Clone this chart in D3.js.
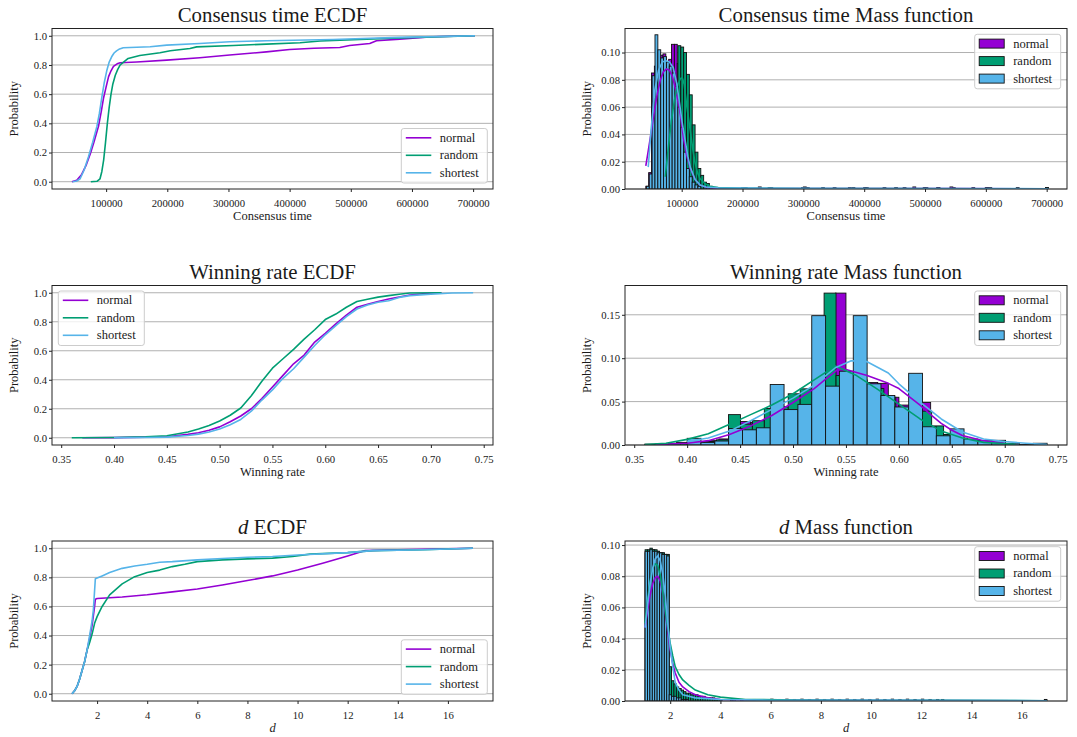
<!DOCTYPE html>
<html>
<head>
<meta charset="utf-8">
<script src="https://cdn.jsdelivr.net/npm/d3@7"></script>
<style>
body { margin: 0; background: #fff; }
text { font-family: "Liberation Serif", "Times New Roman", serif; fill: #1a1a1a; }
</style>
</head>
<body>
<div id="fig"></div>
<script>
// ===== data ============================================================
const seriesNames = ['normal', 'random', 'shortest'];

// Consensus time ECDF  [x, probability]
const ctEcdfNormal = [[44000,0],[52000,0.01],[60000,0.05],[67000,0.11],[74000,0.19],[80000,0.27],[87500,0.38],[92000,0.48],[95600,0.57],[100000,0.65],[104000,0.72],[108000,0.76],[112000,0.79],[118000,0.808],[123000,0.815],[150000,0.82],[199000,0.833],[253000,0.85],[302000,0.868],[362000,0.89],[400000,0.906],[440000,0.915],[482000,0.92],[498000,0.934],[531000,0.947],[542000,0.966],[580000,0.977],[634000,0.993],[703000,1.0]];
const ctEcdfRandom = [[75000,0],[85000,0.003],[90000,0.02],[93000,0.07],[96000,0.15],[99000,0.27],[102000,0.4],[105000,0.51],[108000,0.6],[111000,0.67],[115000,0.73],[119000,0.77],[123000,0.8],[130000,0.825],[136000,0.845],[155000,0.865],[188000,0.884],[205000,0.897],[237000,0.913],[248000,0.924],[308000,0.933],[362000,0.943],[417000,0.952],[450000,0.964],[526000,0.977],[607000,0.989],[703000,1.0]];
const ctEcdfShortest = [[45000,0],[52000,0.005],[57500,0.02],[64000,0.08],[71000,0.17],[78000,0.27],[85000,0.38],[89000,0.47],[93000,0.58],[97000,0.68],[101000,0.76],[105000,0.82],[109000,0.856],[113000,0.882],[117000,0.897],[122000,0.91],[128000,0.918],[172000,0.925],[199000,0.936],[253000,0.947],[302000,0.959],[362000,0.966],[471000,0.975],[580000,0.989],[703000,1.0]];

// Winning rate ECDF
const wrEcdfNormal = [[0.37,0],[0.40,0.001],[0.43,0.004],[0.45,0.007],[0.47,0.023],[0.48,0.034],[0.49,0.052],[0.50,0.075],[0.51,0.11],[0.52,0.15],[0.53,0.2],[0.54,0.27],[0.55,0.35],[0.56,0.43],[0.57,0.51],[0.58,0.57],[0.59,0.66],[0.60,0.72],[0.61,0.785],[0.62,0.846],[0.63,0.9],[0.64,0.92],[0.65,0.94],[0.66,0.957],[0.68,0.984],[0.70,0.998],[0.71,1.0]];
const wrEcdfRandom = [[0.36,0],[0.40,0.002],[0.43,0.007],[0.45,0.014],[0.47,0.04],[0.48,0.06],[0.49,0.085],[0.50,0.115],[0.51,0.155],[0.52,0.205],[0.53,0.29],[0.54,0.39],[0.55,0.48],[0.56,0.545],[0.57,0.61],[0.58,0.68],[0.59,0.745],[0.60,0.815],[0.61,0.853],[0.62,0.9],[0.63,0.94],[0.64,0.955],[0.65,0.97],[0.66,0.98],[0.67,0.99],[0.68,0.998],[0.71,1.0]];
const wrEcdfShortest = [[0.40,0],[0.43,0.002],[0.45,0.004],[0.47,0.015],[0.48,0.025],[0.49,0.04],[0.50,0.06],[0.51,0.09],[0.52,0.126],[0.53,0.183],[0.54,0.26],[0.55,0.33],[0.56,0.41],[0.57,0.476],[0.58,0.556],[0.59,0.636],[0.60,0.71],[0.61,0.773],[0.62,0.835],[0.63,0.888],[0.64,0.915],[0.65,0.934],[0.66,0.945],[0.67,0.968],[0.68,0.98],[0.70,0.99],[0.72,0.998],[0.74,1.0]];

// d ECDF
const dEcdfNormal = [[1.0,0],[1.1,0.02],[1.2,0.05],[1.3,0.1],[1.4,0.16],[1.5,0.22],[1.6,0.3],[1.7,0.38],[1.8,0.47],[1.9,0.6],[1.93,0.65],[2.0,0.655],[3,0.665],[4,0.68],[5,0.70],[6,0.72],[7,0.748],[8,0.778],[9,0.81],[10,0.85],[11,0.897],[12,0.947],[12.7,0.984],[14,0.99],[17,1.0]];
const dEcdfRandom = [[1.0,0],[1.1,0.02],[1.2,0.05],[1.3,0.1],[1.4,0.16],[1.5,0.22],[1.6,0.3],[1.7,0.35],[1.8,0.41],[1.9,0.484],[2.0,0.53],[2.2,0.6],[2.5,0.68],[3,0.755],[3.5,0.805],[4,0.833],[4.5,0.85],[5,0.874],[5.5,0.89],[6,0.908],[7,0.92],[8,0.927],[9,0.932],[9.8,0.943],[10.5,0.96],[12,0.97],[13,0.984],[15,0.99],[17,1.0]];
const dEcdfShortest = [[1.0,0],[1.1,0.02],[1.2,0.05],[1.3,0.1],[1.4,0.16],[1.5,0.22],[1.6,0.3],[1.7,0.4],[1.8,0.5],[1.85,0.575],[1.93,0.79],[2.2,0.81],[2.5,0.833],[3,0.862],[3.5,0.878],[4,0.89],[4.5,0.904],[5,0.908],[6,0.92],[7,0.93],[8,0.938],[9,0.943],[10,0.954],[12,0.97],[13,0.984],[15,0.99],[17,1.0]];

// Consensus time histogram: first bin edge, bin width, bar heights, sparse tail bars [left edge, height]
const ctBinW = 4700;
const ctStart = {normal: 41000, random: 75000, shortest: 42000};
const ctHistNormal = [0.002,0.012,0.085,0.09,0.1,0.098,0.099,0.09,0.095,0.106,0.106,0.092,0.07,0.045,0.022,0.012,0.006,0.004,0.002];
const ctHistRandom = [0.001,0.004,0.03,0.07,0.105,0.104,0.1,0.084,0.069,0.047,0.027,0.015,0.01,0.005,0.004,0.002,0.001];
const ctHistShortest = [0.002,0.011,0.083,0.113,0.102,0.096,0.097,0.093,0.09,0.085,0.075,0.06,0.045,0.027,0.015,0.009,0.005,0.003,0.002];
const ctTailNormal = [[150000,0.001],[201000,0.001],[226000,0.0015],[245000,0.001],[300000,0.0015],[349000,0.001],[374000,0.001],[399000,0.001],[431000,0.001],[464000,0.001],[480000,0.0015],[497000,0.001],[519000,0.001],[541000,0.0015],[545000,0.001],[577000,0.001],[599000,0.001],[650000,0.001],[698000,0.001]];
const ctTailRandom = [[155000,0.001],[168000,0.001],[203000,0.001],[242000,0.001],[302000,0.001],[330000,0.001],[380000,0.001],[450000,0.001],[520000,0.001],[605000,0.001],[698000,0.001]];
const ctTailShortest = [[160000,0.001],[198000,0.001],[297000,0.001],[305000,0.001],[402000,0.001],[500000,0.001],[600000,0.001],[698000,0.001]];
const ctKdeNormal = [[41000,0.017],[45000,0.028],[50000,0.042],[55000,0.057],[60000,0.07],[65000,0.08],[70000,0.086],[75000,0.088],[80000,0.087],[85000,0.082],[90000,0.073],[97000,0.057],[103000,0.037],[108000,0.025],[114000,0.015],[122000,0.007],[130000,0.003],[140000,0.0012],[160000,0.0005],[250000,0.0003],[400000,0.0003],[550000,0.0003],[703000,0.0001]];
const ctKdeRandom = [[73000,0.009],[78000,0.03],[83000,0.05],[88000,0.065],[93000,0.076],[98000,0.081],[101000,0.0815],[104000,0.077],[108000,0.062],[114000,0.043],[118000,0.03],[122000,0.019],[126000,0.012],[130000,0.0077],[138000,0.004],[146000,0.002],[160000,0.001],[200000,0.0006],[300000,0.0004],[450000,0.0003],[600000,0.0002],[703000,0.0001]];
const ctKdeShortest = [[45000,0.016],[50000,0.045],[56000,0.073],[62000,0.087],[68000,0.093],[74000,0.094],[80000,0.093],[86000,0.089],[92000,0.077],[97000,0.061],[101000,0.048],[105500,0.036],[110000,0.024],[114000,0.016],[122000,0.007],[130000,0.003],[140000,0.0015],[160000,0.0008],[250000,0.0005],[400000,0.0004],[550000,0.0004],[703000,0.0002]];

// Winning rate histogram
const wrStart = {normal: 0.37, random: 0.36, shortest: 0.40};
const wrBinW = {normal: 0.01, random: 0.35 / 31, shortest: 0.34 / 26};
const wrHistNormal = [0.001,0,0.003,0.002,0.003,0.005,0.007,0.012,0.027,0.026,0.028,0.033,0.04,0.045,0.05,0.058,0.065,0.175,0.08,0.075,0.072,0.071,0.055,0.046,0.036,0.049,0.02,0.012,0.008,0.006,0.005,0.003,0.002];
const wrHistRandom = [0.001,0.001,0.002,0.002,0.003,0.004,0.006,0.035,0.024,0.028,0.042,0.044,0.059,0.0647,0.075,0.175,0.08,0.082,0.07,0.065,0.055,0.043,0.035,0.039,0.022,0.012,0.008,0.005,0.003,0.002,0.001];
const wrHistShortest = [0.0077,0.003,0.0046,0.019,0.0175,0.0198,0.0697,0.0408,0.0468,0.149,0.0678,0.085,0.149,0.0705,0.057,0.0438,0.0826,0.021,0.0106,0.0186,0.0069,0.005,0.0054,0.002,0.0005,0.002];
const wrKdeNormal = [[0.37,0.0005],[0.40,0.002],[0.42,0.005],[0.44,0.012],[0.46,0.022],[0.48,0.034],[0.50,0.049],[0.52,0.065],[0.53,0.075],[0.543,0.0876],[0.55,0.087],[0.57,0.08],[0.59,0.071],[0.60,0.065],[0.62,0.046],[0.63,0.035],[0.64,0.025],[0.65,0.017],[0.66,0.011],[0.68,0.005],[0.70,0.002]];
const wrKdeRandom = [[0.36,0.0005],[0.38,0.002],[0.40,0.0065],[0.42,0.013],[0.44,0.024],[0.46,0.035],[0.48,0.046],[0.50,0.059],[0.52,0.075],[0.54,0.091],[0.56,0.08],[0.58,0.064],[0.60,0.047],[0.62,0.03],[0.64,0.016],[0.66,0.008],[0.68,0.003],[0.71,0.0008]];
const wrKdeShortest = [[0.40,0.004],[0.42,0.008],[0.44,0.016],[0.46,0.028],[0.48,0.041],[0.50,0.054],[0.52,0.069],[0.54,0.089],[0.555,0.097],[0.57,0.096],[0.59,0.083],[0.60,0.0705],[0.62,0.0495],[0.64,0.03],[0.66,0.015],[0.68,0.007],[0.70,0.004],[0.72,0.002],[0.74,0.0005]];

// d histogram (shared bin edges)
const dStart = 1.0;
const dBinW = 16 / 167;
const dHistNormal = [0.095,0.096,0.096,0.097,0.096,0.096,0.095,0.095,0.094,0.094,0.01,0.007,0.005,0.004,0.003,0.003,0.002,0.002,0.002,0.002];
const dHistRandom = [0.097,0.097,0.098,0.097,0.097,0.096,0.095,0.095,0.094,0.094,0.022,0.013,0.011,0.009,0.008,0.007,0.006,0.005,0.005,0.004,0.004,0.004,0.003,0.003,0.003,0.002,0.002,0.002,0.002,0.001,0.001,0.001];
const dHistShortest = [0.096,0.096,0.097,0.096,0.096,0.095,0.095,0.094,0.094,0.093,0.004,0.003,0.003,0.002,0.002,0.001,0.001,0.001];
const dTailNormal = [[3.9,0.001],[4.4,0.001],[4.8,0.001],[5.3,0.001],[5.7,0.001],[6.0,0.0012],[6.3,0.001],[6.6,0.0012],[6.9,0.001],[7.2,0.0012],[7.5,0.001],[7.8,0.0012],[8.1,0.001],[8.4,0.0012],[8.7,0.001],[9.0,0.0012],[9.3,0.001],[9.6,0.0012],[9.9,0.001],[10.2,0.0012],[10.5,0.001],[10.8,0.0012],[11.1,0.001],[11.4,0.0012],[11.7,0.001],[12.0,0.0012],[12.3,0.001],[12.6,0.001]];
const dTailRandom = [[4.4,0.001],[4.8,0.001],[6.1,0.001],[9.6,0.001],[12.8,0.001],[16.9,0.001]];
const dTailShortest = [[4.5,0.001],[16.9,0.001]];
const dKdeNormal = [[1.0,0.047],[1.1,0.058],[1.2,0.068],[1.3,0.075],[1.4,0.079],[1.5,0.08],[1.6,0.077],[1.7,0.069],[1.8,0.057],[1.9,0.045],[2.0,0.033],[2.1,0.024],[2.2,0.018],[2.35,0.012],[2.5,0.009],[2.75,0.006],[3.0,0.004],[3.5,0.002],[4.0,0.001],[5,0.0006],[8,0.0004],[12,0.0003],[17,0.0001]];
const dKdeRandom = [[1.0,0.05],[1.1,0.065],[1.2,0.077],[1.3,0.085],[1.4,0.088],[1.5,0.087],[1.6,0.081],[1.7,0.07],[1.8,0.058],[1.9,0.047],[2.0,0.037],[2.1,0.029],[2.2,0.022],[2.35,0.017],[2.5,0.0135],[2.75,0.01],[3.0,0.007],[3.5,0.004],[4.0,0.0025],[5,0.001],[7,0.0006],[10,0.0005],[13,0.0004],[17,0.0002]];
const dKdeShortest = [[1.0,0.047],[1.1,0.062],[1.2,0.075],[1.3,0.085],[1.4,0.091],[1.5,0.093],[1.6,0.09],[1.7,0.082],[1.8,0.068],[1.9,0.05],[2.0,0.035],[2.1,0.022],[2.2,0.012],[2.35,0.007],[2.5,0.004],[3.0,0.002],[4,0.001],[6,0.0005],[10,0.0004],[17,0.0002]];

// tick values
const ctTicks = [100000,200000,300000,400000,500000,600000,700000];
const wrTicks = [0.35,0.40,0.45,0.50,0.55,0.60,0.65,0.70,0.75];
const dTicks = [2,4,6,8,10,12,14,16];
const ecdfYTicks = [0,0.2,0.4,0.6,0.8,1.0];
const ctHistYTicks = [0,0.02,0.04,0.06,0.08,0.10];
const wrHistYTicks = [0,0.05,0.10,0.15];
const dHistYTicks = [0,0.02,0.04,0.06,0.08,0.10];

// ===== layout ===========================================================
const colors = {normal: '#9400d3', random: '#009e73', shortest: '#56b4e9'};
const colX = [[52, 493], [625, 1067]];
const rowY = [[28.5, 189], [285.5, 445], [541, 701]];

const svg = d3.select('#fig').append('svg')
    .attr('width', 1077)
    .attr('height', 737);
const defs = svg.append('defs');

let clipN = 0;
function panel(cfg) {
    const [x0, x1] = colX[cfg.col];
    const [y0, y1] = rowY[cfg.row];
    const x = d3.scaleLinear().domain(cfg.xDom).range([x0, x1]);
    const y = d3.scaleLinear().domain(cfg.yDom).range([y1, y0]);
    const g = svg.append('g');

    g.selectAll('line.grid').data(cfg.yTicks).join('line')
        .attr('class', 'grid')
        .attr('x1', x0).attr('x2', x1)
        .attr('y1', d => y(d)).attr('y2', d => y(d))
        .attr('stroke', '#b0b0b0')
        .attr('stroke-width', 1);

    const id = 'clip' + (clipN++);
    defs.append('clipPath').attr('id', id)
        .append('rect').attr('x', x0).attr('y', y0).attr('width', x1 - x0).attr('height', y1 - y0);
    const plot = g.append('g').attr('clip-path', `url(#${id})`);

    const gx = g.append('g').attr('transform', `translate(0,${y1})`)
        .call(d3.axisBottom(x).tickValues(cfg.xTicks).tickFormat(cfg.xFmt).tickSize(3).tickPadding(7).tickSizeOuter(0));
    const gy = g.append('g').attr('transform', `translate(${x0},0)`)
        .call(d3.axisLeft(y).tickValues(cfg.yTicks).tickFormat(cfg.yFmt).tickSize(3).tickPadding(2).tickSizeOuter(0));
    [gx, gy].forEach(a => {
        a.attr('font-family', null).attr('font-size', null);
        a.select('.domain').remove();
        a.selectAll('line').attr('stroke', '#222');
        a.selectAll('text').attr('font-size', 10.7).attr('fill', '#1a1a1a');
    });

    g.append('rect')
        .attr('x', x0).attr('y', y0).attr('width', x1 - x0).attr('height', y1 - y0)
        .attr('fill', 'none').attr('stroke', '#222').attr('stroke-width', 1);

    // title
    const t = g.append('text')
        .attr('x', (x0 + x1) / 2).attr('y', y0 - 7)
        .attr('text-anchor', 'middle').attr('font-size', 20.8);
    cfg.title.forEach(p => t.append('tspan').text(p[0]).attr('font-style', p[1] ? 'italic' : null));

    const xl = g.append('text')
        .attr('x', (x0 + x1) / 2).attr('y', y1 + 31)
        .attr('text-anchor', 'middle').attr('font-size', 12.5);
    cfg.xLabel.forEach(p => xl.append('tspan').text(p[0]).attr('font-style', p[1] ? 'italic' : null));

    g.append('text')
        .attr('transform', `translate(${x0 - 38},${(y0 + y1) / 2}) rotate(-90)`)
        .attr('text-anchor', 'middle').attr('dominant-baseline', 'central')
        .attr('font-size', 12.5)
        .text('Probability');

    return {g, plot, x, y, x0, x1, y0, y1};
}

function drawLines(p, list) {
    const line = d3.line().x(d => p.x(d[0])).y(d => p.y(d[1]));
    list.forEach((data, i) => {
        p.plot.append('path')
            .datum(data)
            .attr('d', line)
            .attr('fill', 'none')
            .attr('stroke', colors[seriesNames[i]])
            .attr('stroke-width', 1.6)
            .attr('stroke-linejoin', 'round');
    });
}

function drawBars(p, name, start, w, heights, tail) {
    const bars = heights.map((h, i) => [start + i * w, h]).concat(tail || []);
    p.plot.append('g').selectAll('rect')
        .data(bars.filter(d => d[1] > 0))
        .join('rect')
        .attr('x', d => p.x(d[0]))
        .attr('width', d => p.x(d[0] + w) - p.x(d[0]))
        .attr('y', d => p.y(d[1]))
        .attr('height', d => p.y(0) - p.y(d[1]))
        .attr('fill', colors[name])
        .attr('stroke', '#111')
        .attr('stroke-width', 0.9);
}

function legend(p, left, top, kind) {
    const lg = p.g.append('g').attr('transform', `translate(${left},${top})`);
    lg.append('rect')
        .attr('width', 86).attr('height', 54.5).attr('rx', 2.5)
        .attr('fill', 'white').attr('fill-opacity', 0.8)
        .attr('stroke', '#cccccc').attr('stroke-width', 1);
    seriesNames.forEach((n, i) => {
        const cy = 9.3 + i * 17.5;
        if (kind === 'line') {
            lg.append('line')
                .attr('x1', 4.5).attr('x2', 30).attr('y1', cy).attr('y2', cy)
                .attr('stroke', colors[n]).attr('stroke-width', 1.6);
        } else {
            lg.append('rect')
                .attr('x', 4.5).attr('y', cy - 4.5).attr('width', 25).attr('height', 9)
                .attr('fill', colors[n]).attr('stroke', '#111').attr('stroke-width', 0.9);
        }
        lg.append('text')
            .attr('x', 38.5).attr('y', cy)
            .attr('dominant-baseline', 'central')
            .attr('font-size', 12.5)
            .text(n);
    });
}

const fmtInt = d3.format('d');
const fmt1 = d3.format('.1f');
const fmt2 = d3.format('.2f');

// ===== Consensus time ===================================================
const p1 = panel({col: 0, row: 0, xDom: [11500, 732500], yDom: [-0.05, 1.05],
    xTicks: ctTicks, yTicks: ecdfYTicks, xFmt: fmtInt, yFmt: fmt1,
    title: [['Consensus time ECDF', false]], xLabel: [['Consensus time', false]]});
drawLines(p1, [ctEcdfNormal, ctEcdfRandom, ctEcdfShortest]);
legend(p1, p1.x1 - 5.7 - 86, p1.y1 - 6 - 54.5, 'line');

const p2 = panel({col: 1, row: 0, xDom: [6800, 733400], yDom: [0, 0.1176],
    xTicks: ctTicks, yTicks: ctHistYTicks, xFmt: fmtInt, yFmt: fmt2,
    title: [['Consensus time Mass function', false]], xLabel: [['Consensus time', false]]});
drawBars(p2, 'normal', ctStart.normal, ctBinW, ctHistNormal, ctTailNormal);
drawBars(p2, 'random', ctStart.random, ctBinW, ctHistRandom, ctTailRandom);
drawBars(p2, 'shortest', ctStart.shortest, ctBinW, ctHistShortest, ctTailShortest);
drawLines(p2, [ctKdeNormal, ctKdeRandom, ctKdeShortest]);
legend(p2, p2.x1 - 6.3 - 86, p2.y0 + 5.8, 'patch');

// ===== Winning rate =====================================================
const p3 = panel({col: 0, row: 1, xDom: [0.3413, 0.7588], yDom: [-0.05, 1.05],
    xTicks: wrTicks, yTicks: ecdfYTicks, xFmt: fmt2, yFmt: fmt1,
    title: [['Winning rate ECDF', false]], xLabel: [['Winning rate', false]]});
drawLines(p3, [wrEcdfNormal, wrEcdfRandom, wrEcdfShortest]);
legend(p3, p3.x0 + 6.3, p3.y0 + 5.5, 'line');

const p4 = panel({col: 1, row: 1, xDom: [0.3413, 0.7588], yDom: [0, 0.18375],
    xTicks: wrTicks, yTicks: wrHistYTicks, xFmt: fmt2, yFmt: fmt2,
    title: [['Winning rate Mass function', false]], xLabel: [['Winning rate', false]]});
drawBars(p4, 'normal', wrStart.normal, wrBinW.normal, wrHistNormal);
drawBars(p4, 'random', wrStart.random, wrBinW.random, wrHistRandom);
drawBars(p4, 'shortest', wrStart.shortest, wrBinW.shortest, wrHistShortest);
drawLines(p4, [wrKdeNormal, wrKdeRandom, wrKdeShortest]);
legend(p4, p4.x1 - 6.3 - 86, p4.y0 + 5.5, 'patch');

// ===== d ================================================================
const p5 = panel({col: 0, row: 2, xDom: [0.2, 17.8], yDom: [-0.05, 1.05],
    xTicks: dTicks, yTicks: ecdfYTicks, xFmt: fmtInt, yFmt: fmt1,
    title: [['d', true], [' ECDF', false]], xLabel: [['d', true]]});
drawLines(p5, [dEcdfNormal, dEcdfRandom, dEcdfShortest]);
legend(p5, p5.x1 - 5.7 - 86, p5.y1 - 6.7 - 54.5, 'line');

const p6 = panel({col: 1, row: 2, xDom: [0.2, 17.8], yDom: [0, 0.1026],
    xTicks: dTicks, yTicks: dHistYTicks, xFmt: fmtInt, yFmt: fmt2,
    title: [['d', true], [' Mass function', false]], xLabel: [['d', true]]});
drawBars(p6, 'normal', dStart, dBinW, dHistNormal, dTailNormal);
drawBars(p6, 'random', dStart, dBinW, dHistRandom, dTailRandom);
drawBars(p6, 'shortest', dStart, dBinW, dHistShortest, dTailShortest);
drawLines(p6, [dKdeNormal, dKdeRandom, dKdeShortest]);
legend(p6, p6.x1 - 6.3 - 86, p6.y0 + 5.7, 'patch');
</script>
</body>
</html>
